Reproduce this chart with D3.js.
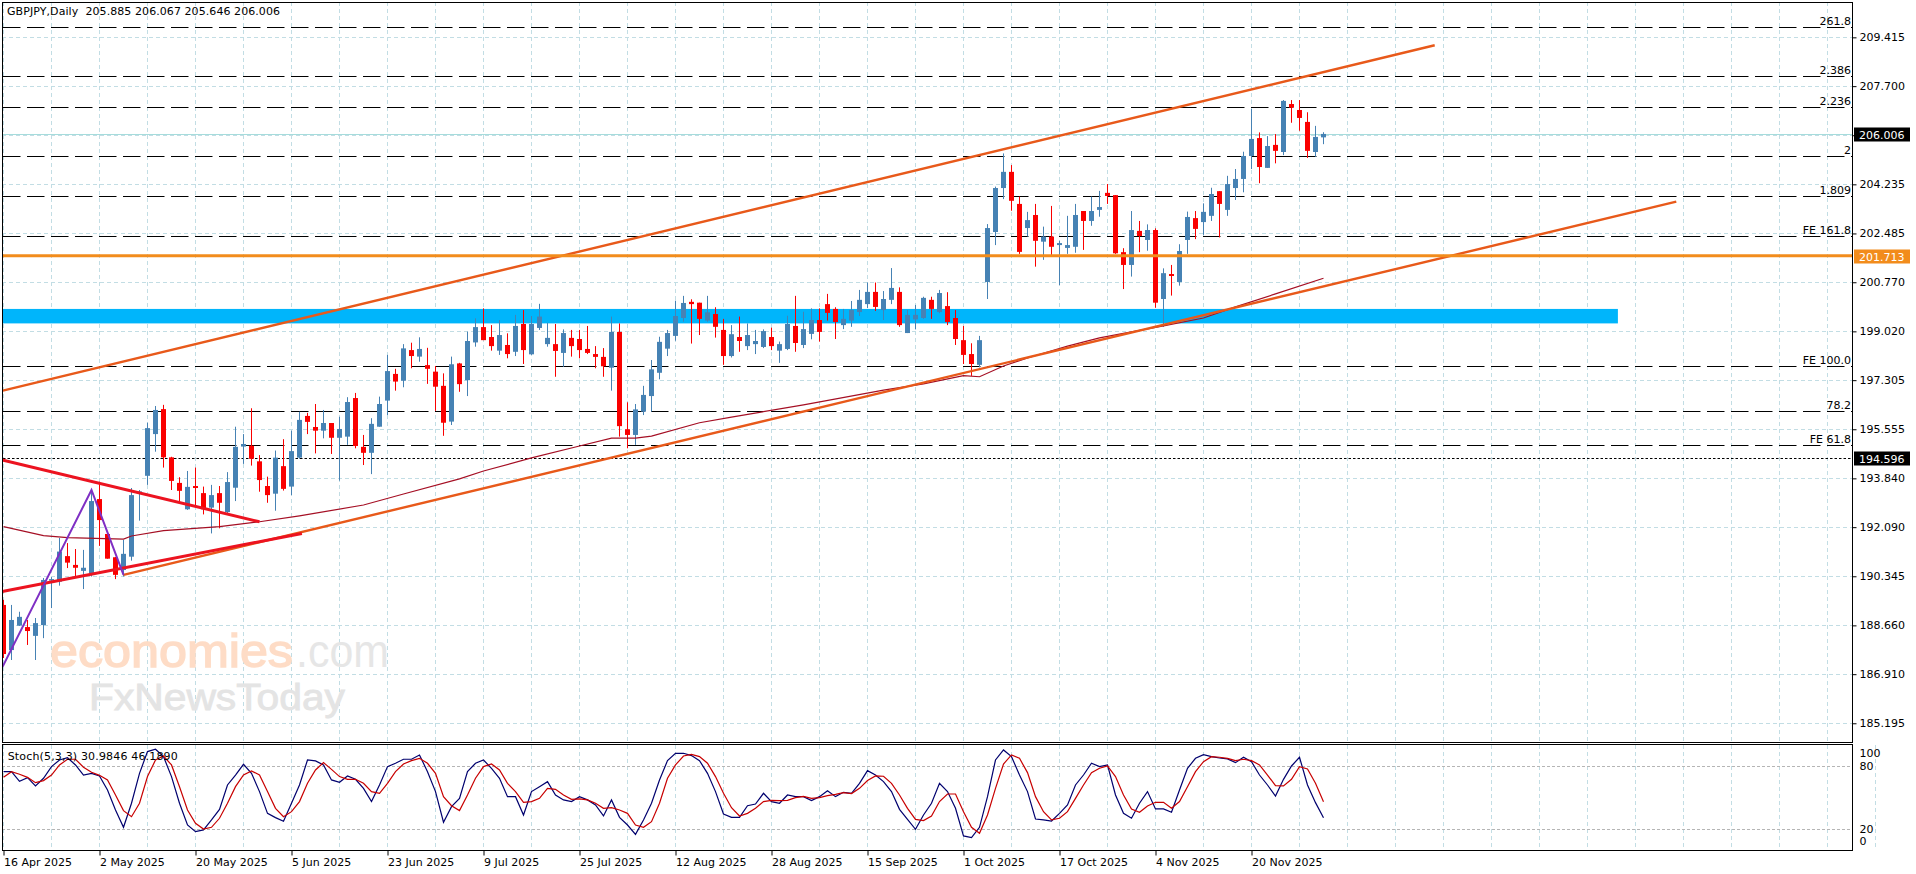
<!DOCTYPE html>
<html>
<head>
<meta charset="utf-8">
<script src="https://cdn.jsdelivr.net/npm/d3@7/dist/d3.min.js"></script>
<style>
html,body{margin:0;padding:0;background:#fff;overflow:hidden}
svg{display:block}
text{font-family:"DejaVu Sans",sans-serif;font-size:11px;fill:#000}
</style>
</head>
<body>
<svg id="c" width="1916" height="874"></svg>
<script>
const symbolTitle = "GBPJPY,Daily  205.885 206.067 205.646 206.006";
const stochTitle = "Stoch(5,3,3) 30.9846 46.1890";

const opens = [
189.41,187.82,188.68,188.63,188.32,188.70,190.29,190.23,191.13,190.82,
190.61,190.53,193.14,191.91,191.09,190.64,191.11,193.37,193.96,195.43,
196.31,194.61,193.71,192.78,193.60,193.35,192.84,193.35,192.68,193.54,
194.99,195.02,194.47,193.60,193.33,194.30,193.58,194.60,196.07,195.68,
195.55,195.82,195.30,195.34,196.70,194.98,194.77,195.69,196.61,197.55,
197.31,198.39,198.16,197.86,197.63,197.13,195.87,197.92,197.33,198.66,
199.20,198.85,198.37,198.57,198.33,199.31,198.24,199.17,198.60,198.60,
198.29,198.82,198.78,198.43,198.25,198.15,197.77,199.03,195.60,195.40,
196.22,196.77,197.59,198.44,198.89,199.52,200.09,200.06,199.43,199.66,
199.10,198.18,198.85,198.53,198.60,198.50,198.85,198.37,198.43,199.24,
198.57,198.96,199.45,200.01,199.84,199.27,199.43,199.73,200.01,200.44,
199.80,200.16,200.44,198.99,199.47,199.52,200.16,199.73,199.94,199.52,
198.74,198.25,197.87,200.79,202.55,204.10,204.67,203.54,202.69,203.15,
202.21,202.39,202.09,201.99,202.03,203.29,202.94,203.33,203.93,203.85,
201.84,201.39,202.59,202.27,202.62,200.19,201.07,200.79,202.27,203.04,
202.90,203.12,203.99,203.33,204.10,204.42,205.23,205.86,204.81,205.62,
205.37,207.06,206.85,206.43,205.37,205.885];
const highs = [
189.59,189.41,189.17,188.88,188.95,190.36,190.39,191.77,191.59,191.38,
191.35,193.46,193.75,191.95,191.10,191.70,193.53,193.46,195.83,196.42,
196.46,194.63,193.91,194.13,194.25,193.58,193.64,193.60,194.09,195.69,
195.43,196.34,194.69,193.93,194.85,195.25,195.55,196.22,196.18,196.49,
196.28,195.82,196.04,196.73,196.88,195.40,195.99,196.75,198.22,197.73,
198.60,198.65,198.84,198.47,197.83,197.57,198.16,197.94,199.04,199.51,
199.86,199.27,199.45,198.98,199.63,199.80,199.59,200.02,199.35,199.31,
199.12,199.10,199.10,199.24,198.53,198.46,199.57,199.33,196.55,196.49,
197.13,198.04,198.86,199.10,200.13,200.30,200.18,200.06,200.30,199.90,
199.49,199.27,199.57,199.33,199.10,199.12,199.18,198.69,199.60,200.30,
199.74,199.86,199.86,200.37,199.90,199.84,200.12,200.51,200.77,200.77,
200.47,201.28,200.60,199.80,199.98,200.27,200.27,200.51,200.43,199.80,
199.24,198.63,198.89,202.83,204.15,205.32,204.91,203.80,203.26,203.54,
202.74,203.47,202.24,203.12,203.54,203.29,203.80,204.00,204.24,203.85,
201.98,203.29,202.94,202.82,202.68,201.27,201.39,202.12,203.27,203.29,
203.56,204.11,203.99,204.53,204.77,205.38,206.89,206.06,205.93,206.00,
207.20,207.20,207.20,206.77,206.29,206.067];
const lows = [
187.54,187.47,188.67,188.00,187.47,188.24,189.30,190.09,190.71,190.41,
189.97,190.41,191.49,191.04,190.32,190.41,190.97,192.38,193.64,194.81,
194.25,193.46,193.05,192.76,192.93,192.60,191.93,192.11,192.65,193.07,
194.38,194.32,193.40,193.01,192.73,193.44,193.28,194.56,195.43,194.75,
195.28,194.73,193.79,195.05,194.93,194.34,194.02,195.69,196.10,196.96,
197.08,197.75,197.98,197.20,196.25,195.37,195.75,196.92,196.77,198.51,
198.74,198.37,198.22,198.10,198.18,197.90,198.22,199.10,198.51,197.45,
197.80,198.16,198.10,198.25,197.75,197.45,196.96,195.34,194.93,195.05,
196.10,196.22,197.36,198.18,198.72,199.39,198.62,198.92,199.39,198.83,
197.87,198.13,198.33,198.39,198.25,198.46,198.39,197.94,198.39,198.33,
198.46,198.77,198.69,199.43,198.78,199.13,199.21,199.59,199.87,199.77,
199.45,200.01,199.21,198.99,199.12,199.49,199.49,199.69,199.27,198.57,
197.90,197.48,197.78,200.19,202.09,203.71,203.30,201.78,202.39,201.33,
201.57,201.74,200.68,201.78,201.82,201.92,202.77,203.09,203.54,201.78,
200.54,200.98,201.84,201.89,199.88,199.21,200.31,200.66,201.78,202.30,
202.45,202.94,202.36,203.12,203.68,203.95,204.77,204.27,204.81,204.97,
205.26,206.40,206.12,205.16,205.20,205.646];
const closes = [
187.68,188.88,188.99,188.49,188.77,190.29,190.32,191.29,190.90,190.72,
190.72,193.07,192.40,191.04,190.47,191.21,193.28,193.41,195.64,196.28,
194.61,193.78,193.43,193.57,193.53,192.78,193.28,193.01,193.74,194.98,
195.08,194.56,193.81,193.28,194.60,193.50,194.83,195.93,195.86,195.55,
195.82,195.30,195.61,196.56,195.01,194.77,195.79,196.49,197.65,197.28,
198.45,198.18,198.43,197.73,197.10,195.83,197.89,197.19,198.71,199.20,
198.74,198.53,198.92,198.25,199.24,198.39,199.31,199.57,198.82,198.36,
198.99,198.53,198.39,198.29,198.15,197.82,199.03,195.71,195.40,196.30,
196.81,197.71,198.68,198.99,199.59,200.05,200.01,199.49,199.72,199.21,
198.18,198.95,198.71,198.92,198.71,199.06,198.53,198.60,199.31,198.64,
199.13,199.45,199.03,199.70,199.38,199.49,199.80,200.16,200.44,199.91,
200.19,200.58,199.27,199.63,199.63,200.23,199.84,200.40,199.38,198.78,
198.22,197.90,198.74,202.69,204.10,204.67,203.65,201.85,202.97,202.24,
202.39,202.03,202.16,202.09,203.15,202.94,203.29,203.43,203.82,201.80,
201.39,202.62,202.41,202.62,200.06,201.10,201.00,201.88,203.08,202.66,
203.26,203.89,203.54,204.24,204.42,205.23,205.83,204.84,205.58,205.41,
207.17,206.93,206.57,205.41,205.90,206.006];

const stochMain = [
74.9,74.9,65.7,69.2,61.3,68.6,79.7,86,88.2,81.3,71.7,73.3,70.8,57.5,38.4,21.9,44.8,73.3,94,96.2,
89.2,70.2,44.8,24.1,17.8,19.4,28.9,39,62.2,71.7,81.9,73.3,55.9,35.2,31.1,27.6,44.8,62.2,86,85.1,
81.3,67,64.8,70.8,67.6,59,46.4,62.2,79.7,82.9,86.7,86.7,90.8,74.9,55.9,26.7,41.6,49.5,74.9,82.9,
86,78.1,68.6,51.1,51.1,33.6,55.9,60.6,65.4,52.7,48,46.4,51.1,48,43.2,32.7,48,31.4,24.1,15.2,
28.9,44.8,67,85.4,92.4,92.4,90.2,85.4,73.3,55.9,34.6,31.4,31.4,42.5,44.1,54.3,46.4,44.8,52.7,51.1,
51.1,47.3,51.1,56.8,51.1,55.2,54.3,63.8,75.9,71.7,65.4,55.9,39,29.5,20,33.6,44.8,63.8,55.9,40,
13.7,12.1,21.9,51.1,86,95.6,89.2,71.7,55.9,29.8,28.9,27.9,35.2,43.2,62.2,71.7,82.9,79.7,81.3,52.7,
35.2,30.5,44.8,55.9,39.4,39.4,36.2,57.5,78.1,87.6,91.1,89.2,87.9,87,83.5,88.6,84.4,71.7,62.2,51.7,
67.6,80.3,88.6,62.2,45.4,30.98];
const stochSignal = [
69.5,74.9,72.4,69.5,64.4,66.4,71.7,81.3,86.7,86.7,79.1,74.3,71.4,67,52.7,37.8,32,44.8,70.2,86,
89.8,81.3,60.6,38.4,25.7,20.3,21.9,30.5,44.8,60.6,71.7,75.6,71.7,55.9,40,32,36.8,46.4,63.8,76.5,
83.5,77.1,70.2,67.6,67.6,63.8,55.9,54.3,63.8,74.9,82.2,85.4,87.6,82.9,73.3,51.1,42.5,37.8,52.7,68.6,
79.7,82.2,76.5,63.8,55.9,45.7,46.4,49.5,59,58.1,52.7,48.6,48.9,48,44.8,40,40.6,38.4,35.2,24.1,
21.9,27.3,44.8,68.6,81.3,89.8,91.4,89.2,82.9,70.2,54.3,40.6,32.7,35.2,40,46.4,47.6,47.3,47.6,50.2,
51.4,49.5,50.2,52,53.3,54.9,54,59,66.4,70.8,70.5,63.8,52.7,40,29.5,28.3,32.7,46.4,53.6,53.6,
36.8,21.9,16.2,33.6,59,82.2,90.8,87.6,74,51.1,36.8,28.9,30.5,36.8,49.5,62.2,74,78.1,80.3,70.2,
52.7,39.4,36.2,42.2,45.7,45.7,40,46.4,60.6,74.9,84.4,89.2,88.6,87.6,85.4,86.7,85.4,81.3,71.7,61.6,
61.3,67.6,79.7,77.5,63.8,46.19];

const maIndex = [0,5,8,15,16,20,27,32,37,45,50,57,60,66,72,76,79,81,87,91,100,110,115,120,122,125,128,133,137,145,150,154,159,165];
const maValues = [192.17,191.85,191.78,191.73,191.84,192.03,192.17,192.34,192.55,192.93,193.32,193.85,194.13,194.59,195.01,195.29,195.29,195.36,195.83,196.03,196.46,196.98,197.20,197.49,197.45,197.83,198.11,198.53,198.82,199.24,199.52,199.91,200.37,200.92];

const fibLevels = [209.76,208.04,206.95,205.23,203.81,202.40,197.82,196.23,195.04];
const fibLabels = ["261.8","2.386","2.236","2","1.809","FE 161.8","FE 100.0","78.2","FE 61.8"];

const gridLevels = [209.41,207.69,205.96,204.23,202.50,200.78,199.05,197.33,195.60,193.87,192.15,190.42,188.69,186.97,185.24];
const priceLabels = ["209.415","207.700","","204.235","202.485","200.770","199.020","197.305","195.555","193.840","192.090","190.345","188.660","186.910","185.195"];

const dateIndex = [0,12,24,36,48,60,72,84,96,108,120,132,144,156];
const dateLabels = ["16 Apr 2025","2 May 2025","20 May 2025","5 Jun 2025","23 Jun 2025","9 Jul 2025","25 Jul 2025","12 Aug 2025","28 Aug 2025","15 Sep 2025","1 Oct 2025","17 Oct 2025","4 Nov 2025","20 Nov 2025"];

const bidPrice = 206.006, resistancePrice = 201.713, pivotPrice = 194.596;
const bandRange = [199.33,199.84], bandEnd = 201.8;
const upperChannel = [[-0.08,196.96],[178.9,209.13]];
const lowerChannel = [[15,190.47],[209.1,203.62]];
const triangleTop = [[-0.16,194.52],[32,192.34]];
const triangleBottom = [[-0.16,189.88],[37.3,191.93]];
const zigzag = [[-0.12,187.23],[11,193.46],[15,190.47]];

const gridStep = 6, gridMax = 307;

const W = 1916, paneL = 2, paneR = 1852, mainT = 2, mainB = 743, stT = 745, stB = 850;
const x = d3.scaleLinear().domain([0,165]).range([3.5,1323.5]);
const y = d3.scaleLinear().domain([184.545,210.655]).range([mainB,mainT]);
const ys = d3.scaleLinear().domain([0,100]).range([850.3,745.3]);
const svg = d3.select("#c");
const defs = svg.append("defs");
defs.append("clipPath").attr("id","mainClip").append("rect").attr("x",paneL).attr("y",mainT).attr("width",paneR-paneL).attr("height",mainB-mainT);
const main = svg.append("g").attr("clip-path","url(#mainClip)");

const GRID = "#c2dde4";
const gx = d3.range(0,gridMax+1,gridStep);
main.append("g").selectAll("line").data(gx).join("line")
  .attr("x1",d=>x(d)).attr("x2",d=>x(d)).attr("y1",mainT).attr("y2",mainB)
  .attr("stroke",GRID).attr("stroke-dasharray","4 3");
main.append("g").selectAll("line").data(gridLevels).join("line")
  .attr("x1",paneL).attr("x2",paneR).attr("y1",d=>Math.round(y(d))+.5).attr("y2",d=>Math.round(y(d))+.5)
  .attr("stroke",GRID).attr("stroke-dasharray","4 3");

// watermark
main.append("text").text("economies").attr("x",50).attr("y",667).attr("textLength",243).attr("lengthAdjust","spacingAndGlyphs")
  .style("font-family","'Liberation Sans'").style("font-size","47px").style("fill","#fedcc6")
  .style("stroke","#fedcc6").style("stroke-width","1.4px");
main.append("text").text(".com").attr("x",296).attr("y",667).attr("textLength",93).attr("lengthAdjust","spacingAndGlyphs")
  .style("font-family","'Liberation Sans'").style("font-size","47px").style("fill","#e6e6e6");
main.append("text").text("FxNewsToday").attr("x",89).attr("y",710).attr("textLength",256).attr("lengthAdjust","spacingAndGlyphs")
  .style("font-family","'Liberation Sans'").style("font-size","36px").style("fill","#e4e4e4")
  .style("stroke","#e4e4e4").style("stroke-width","0.8px");

// band
main.append("rect").attr("x",paneL).attr("width",x(bandEnd)-paneL)
  .attr("y",y(bandRange[1])).attr("height",y(bandRange[0])-y(bandRange[1])).attr("fill","#00b5fb");

// bid line
main.append("line").attr("x1",paneL).attr("x2",paneR).attr("y1",Math.round(y(bidPrice))+.5).attr("y2",Math.round(y(bidPrice))+.5)
  .attr("stroke","#a6dcdc");

// fib lines
main.append("g").selectAll("line").data(fibLevels).join("line")
  .attr("x1",3).attr("x2",paneR).attr("y1",d=>Math.round(y(d))+.5).attr("y2",d=>Math.round(y(d))+.5)
  .attr("stroke","#000").attr("stroke-dasharray","17.5 6.5");
main.append("line").attr("x1",3).attr("x2",paneR).attr("y1",Math.round(y(pivotPrice))+.5).attr("y2",Math.round(y(pivotPrice))+.5)
  .attr("stroke","#000").attr("stroke-dasharray","2.5 2");
svg.append("g").selectAll("text").data(fibLevels).join("text")
  .attr("x",paneR-1).attr("y",d=>y(d)-2).attr("text-anchor","end").text((d,i)=>fibLabels[i]);

// candles
const BLUE="#4682b4", RED="#fa0000";
const idx = d3.range(opens.length);
const colour = i => closes[i]>=opens[i] ? BLUE : RED;
const cg = main.append("g");
cg.selectAll("rect.w").data(idx).join("rect").attr("class","w")
  .attr("x",i=>x(i)-.5).attr("width",1).attr("y",i=>y(highs[i])).attr("height",i=>y(lows[i])-y(highs[i])).attr("fill",colour);
cg.selectAll("rect.b").data(idx).join("rect").attr("class","b")
  .attr("x",i=>x(i)-2.5).attr("width",5)
  .attr("y",i=>y(Math.max(opens[i],closes[i])))
  .attr("height",i=>Math.max(1.5,Math.abs(y(opens[i])-y(closes[i])))).attr("fill",colour);

// overlays
const seg = d3.line().x(d=>x(d[0])).y(d=>y(d[1]));
const addLine=(pts,col,w)=>main.append("path").attr("d",seg(pts)).attr("fill","none").attr("stroke",col).attr("stroke-width",w);
addLine(maIndex.map((k,i)=>[k,maValues[i]]),"#a50f24",1.2);
addLine(upperChannel,"#e8591a",2.4);
addLine(lowerChannel,"#e8591a",2.4);
main.append("line").attr("x1",paneL).attr("x2",paneR).attr("y1",y(resistancePrice)).attr("y2",y(resistancePrice))
  .attr("stroke","#f28c1c").attr("stroke-width",3);
addLine(triangleTop,"#ec1320",3);
addLine(triangleBottom,"#ec1320",3);
addLine(zigzag,"#7f2fc4",2);

// stochastic pane
const st = svg.append("g");
st.append("g").selectAll("line").data(gx).join("line")
  .attr("x1",d=>x(d)).attr("x2",d=>x(d)).attr("y1",stT).attr("y2",stB)
  .attr("stroke",GRID).attr("stroke-dasharray","4 3");
st.append("g").selectAll("line").data([80,20]).join("line")
  .attr("x1",paneL).attr("x2",paneR).attr("y1",d=>Math.round(ys(d))+.5).attr("y2",d=>Math.round(ys(d))+.5)
  .attr("stroke","#b5b5b5").attr("stroke-dasharray","3 2");
const sl = d3.line().x((d,i)=>x(i)).y(d=>ys(d));
st.append("path").attr("d",sl(stochMain)).attr("fill","none").attr("stroke","#00006e").attr("stroke-width",1.2);
st.append("path").attr("d",sl(stochSignal)).attr("fill","none").attr("stroke","#c80000").attr("stroke-width",1.2);

// frames
const frame=(t,b)=>svg.append("rect").attr("x",paneL+.5).attr("y",t+.5).attr("width",paneR-paneL).attr("height",b-t)
  .attr("fill","none").attr("stroke","#000");
frame(mainT,mainB-1); frame(stT-1,stB);

// price axis
const yAxis = d3.axisRight(y).tickValues(gridLevels).tickSize(4).tickPadding(3)
  .tickFormat((d,i)=>priceLabels[i]);
const ya = svg.append("g").attr("transform",`translate(${paneR+.5},0)`).call(yAxis);
ya.select(".domain").remove();
ya.selectAll("text").style("font-family","'DejaVu Sans'").style("font-size","11px");

// price boxes
const box=(p,bg)=>{
  const c=Math.round(y(p))+.5;
  svg.append("rect").attr("x",1854).attr("y",c-7).attr("width",56).attr("height",14).attr("fill",bg);
  svg.append("text").attr("x",1859).attr("y",c+4).text(p.toFixed(3)).style("fill","#fff");
};
box(bidPrice,"#000");
box(pivotPrice,"#000");
box(resistancePrice,"#f28c1c");

// stochastic axis
const stTicks=[100,80,20,0], stShift=[8,0,0,-9];
const sAxis=d3.axisRight(ys).tickValues(stTicks).tickSize(4).tickPadding(3);
const sa=svg.append("g").attr("transform",`translate(${paneR+.5},0)`).call(sAxis);
sa.select(".domain").remove();
sa.selectAll("line").remove();
sa.selectAll("text").attr("dy",(d,i)=>(0.32*11+stShift[i])+"px").style("font-family","'DejaVu Sans'").style("font-size","11px");

// date axis
const dAxis=d3.axisBottom(x).tickValues(dateIndex).tickSize(5).tickPadding(3)
  .tickFormat((d,i)=>dateLabels[i]);
const da=svg.append("g").attr("transform",`translate(0,${stB+.5})`).call(dAxis);
da.select(".domain").remove();
da.selectAll("text").attr("text-anchor","start").attr("x",0).style("font-family","'DejaVu Sans'").style("font-size","11px");

// titles
svg.append("text").attr("x",7).attr("y",15).text(symbolTitle).attr("xml:space","preserve").attr("textLength",273);
svg.append("text").attr("x",7.7).attr("y",760).text(stochTitle).attr("textLength",170);
</script>
</body>
</html>
